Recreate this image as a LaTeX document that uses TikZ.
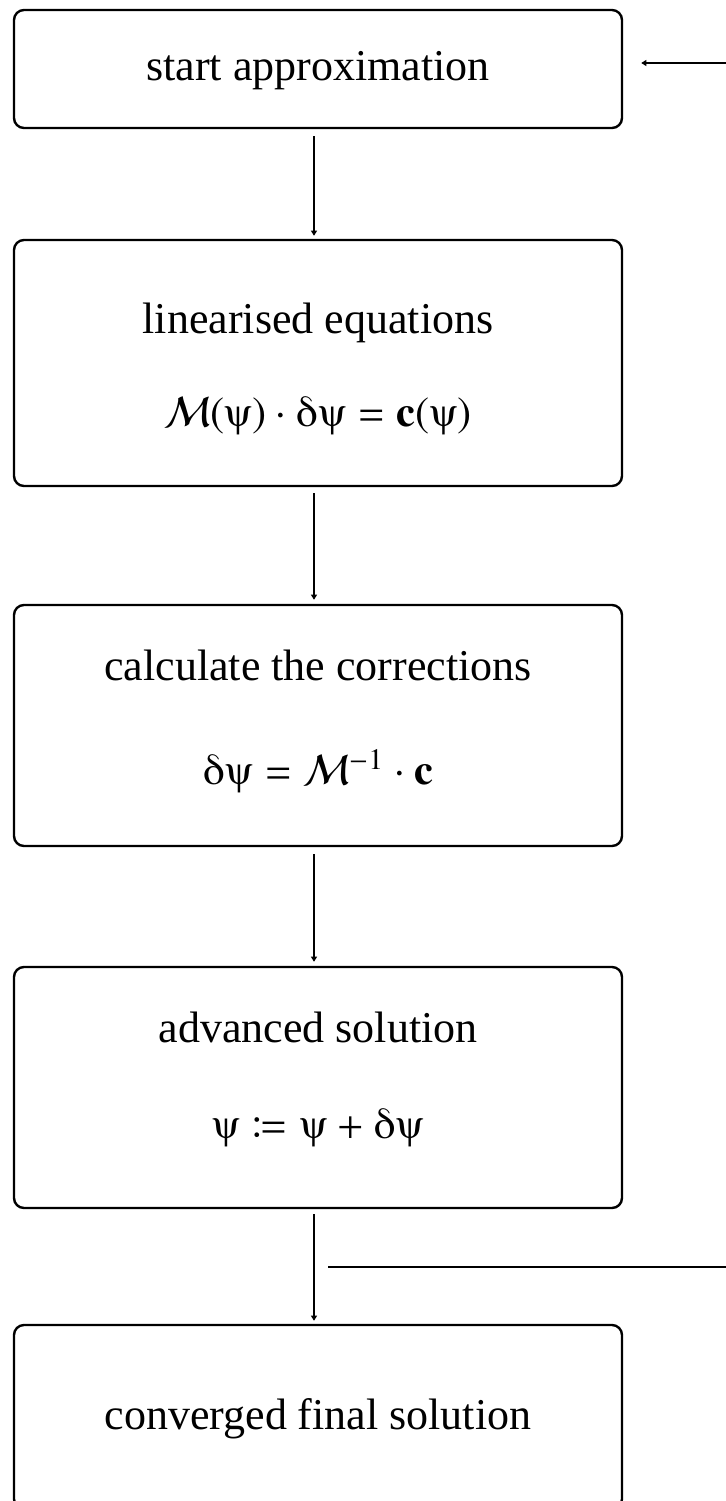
\documentclass[tikz,border=0pt]{standalone}
\usepackage{txfonts}
\usepackage[no-math]{fontspec}
\setmainfont{Liberation Serif}
\usetikzlibrary{arrows.meta,positioning}

\tikzset{
  stage/.style={draw, line width=0.6pt, rounded corners=2.5pt, minimum width=152pt, inner sep=0pt},
  flow/.style={line width=0.45pt, -{Triangle[length=1.3pt,width=1.5pt]}},
  label/.style={font=\fontsize{11}{13}\selectfont},
  formula/.style={font=\fontsize{10.6}{13}\selectfont}
}

\begin{document}
\begin{tikzpicture}[x=0.25pt, y=-0.25pt]
    \useasboundingbox (0,0) rectangle (726,1501);
    % Boxes
    \node[stage, minimum height=29.5pt] (start) at (318,69) {};
    \node[stage, minimum height=61.5pt] (lin) at (318,363) {};
    \node[stage, minimum height=60.25pt] (corr) at (318,725.5) {};
    \node[stage, minimum height=60.25pt] (adv) at (318,1087.5) {};
    \node[stage, minimum height=46pt] (final) at (318,1417) {};
    % Texts
    \node[label] (starttxt) at (318,71) {start approximation};
    \node[label] (lintxt) at (318,323) {linearised equations};
    \node[formula] (linform) at (318,416) {$\mathcal{M}(\psiup)\cdot\deltaup\psiup=\mathbf{c}(\psiup)$};
    \node[label] (corrtxt) at (318,665) {calculate the corrections};
    \node[formula] (corrform) at (318,771) {$\deltaup\psiup=\mathcal{M}^{-1}\cdot\mathbf{c}$};
    \node[label] (advtxt) at (318,1027) {advanced solution};
    \node[formula] (advform) at (318,1128) {$\psiup\coloneqq\psiup+\deltaup\psiup$};
    \node[label] (finaltxt) at (318,1419) {converged final solution};
    % Arrows
    \draw[flow, shorten <=1.75pt, shorten >=0.75pt] ([xshift=-1pt]start.south) -- ([xshift=-1pt]lin.north);
    \draw[flow, shorten <=1.5pt, shorten >=1pt] ([xshift=-1pt]lin.south) -- ([xshift=-1pt]corr.north);
    \draw[flow, shorten <=1.75pt, shorten >=1pt] ([xshift=-1pt]corr.south) -- ([xshift=-1pt]adv.north);
    \draw[flow, shorten <=1.25pt, shorten >=0.75pt] ([xshift=-1pt]adv.south) -- ([xshift=-1pt]final.north);
    % Loop back
    \coordinate (loopin) at (726,63);
    \coordinate (loopout) at (726,1267);
    \coordinate (loopend) at (328,1267);
    \draw[flow, shorten >=4.5pt] (loopin) -- (start.east |- loopin);
    \draw[line width=0.45pt] (loopout) -- (loopend);
\end{tikzpicture}
\end{document}
